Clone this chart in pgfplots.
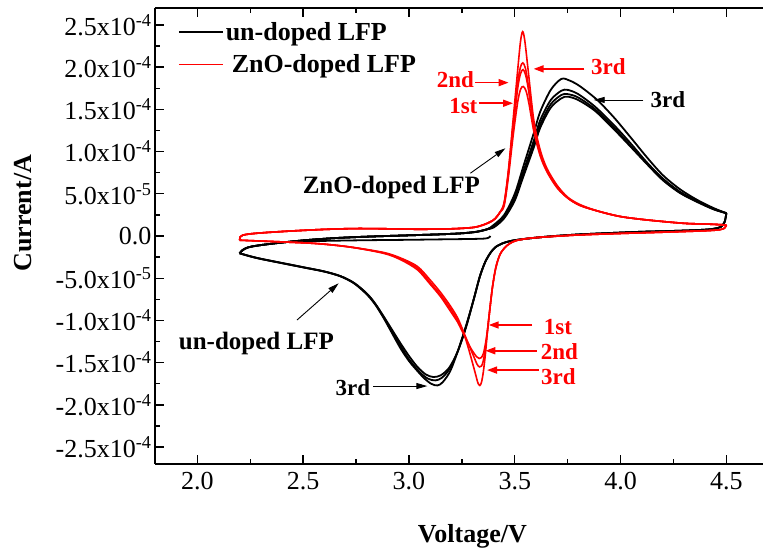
\documentclass[border=0pt]{standalone}
\usepackage{fontspec}
\setmainfont{Liberation Serif}
\usepackage{pgfplots}
\pgfplotsset{compat=1.18}
\usetikzlibrary{arrows.meta}
\pgfplotsset{
  kcv/.style={black, line width=1.8pt, smooth, tension=0.5, forget plot},
  rcv/.style={red, line width=1.6pt, smooth, tension=0.5, forget plot},
}

\begin{document}
\begin{tikzpicture}[
  lbl/.style={font=\fontsize{23}{26}\selectfont\bfseries, inner sep=0pt},
  rarr/.style={red, line width=1.6pt, -{Triangle[length=10pt,width=7pt]}},
  karr/.style={black, line width=0.9pt, -{Triangle[length=11pt,width=6pt]}},
]
\begin{axis}[
  name=ax, scale only axis, width=608pt, height=456pt,
  xmin=1.8, xmax=4.673, ymin=-2.7, ymax=2.7,
  axis x line*=box, axis y line*=left,
  axis line style={line width=1.3pt, -},
  tick align=inside, major tick length=9pt, minor tick length=5pt,
  every tick/.style={black, line width=1.3pt},
  xtick={2,2.5,3,3.5,4,4.5},
  xticklabels={2.0,2.5,3.0,3.5,4.0,4.5},
  ytick={-2.5,-2,-1.5,-1,-0.5,0,0.5,1,1.5,2,2.5},
  yticklabels={-2.5x10\textsuperscript{-4},-2.0x10\textsuperscript{-4},-1.5x10\textsuperscript{-4},-1.0x10\textsuperscript{-4},-5.0x10\textsuperscript{-5},0.0,5.0x10\textsuperscript{-5},1.0x10\textsuperscript{-4},1.5x10\textsuperscript{-4},2.0x10\textsuperscript{-4},2.5x10\textsuperscript{-4}},
  minor x tick num=1, minor y tick num=1,
  ticklabel style={font=\fontsize{26}{28}\selectfont},
  xticklabel shift=5pt,
  xlabel={Voltage/V}, ylabel={Current/A},
  label style={font=\fontsize{26}{30}\selectfont\bfseries},
  xlabel style={at={(axis description cs:0.522,-0.158)}, anchor=center},
  ylabel style={at={(axis description cs:-0.217,0.55)}, anchor=center},
  legend style={at={(axis description cs:0.0378,0.973)}, anchor=north west,
    draw=none, fill=none, inner sep=0pt, row sep=8.5pt,
    font=\fontsize{26}{30}\selectfont\bfseries},
  legend image code/.code={\draw[#1] (0pt,0pt) -- (44pt,0pt);},
  legend cell align=left,
]
\addlegendimage{black, line width=1.6pt}
\addlegendentry{un-doped LFP}
\addlegendimage{red, line width=1.6pt}
\addlegendentry{\hspace{6pt}ZnO-doped LFP}

% ---------- un-doped LFP (current in units of 1e-4 A) ----------
% initial sweep from open-circuit voltage
\addplot[kcv] coordinates {(3.385,0.000) (3.378,-0.018) (3.360,-0.030) (3.300,-0.035) (3.150,-0.040) (3.000,-0.045) (2.800,-0.050) (2.600,-0.058) (2.450,-0.068) (2.380,-0.080)};
% anodic sweeps
\addplot[kcv] coordinates {(2.200,-0.205) (2.215,-0.165) (2.240,-0.135) (2.280,-0.115) (2.340,-0.095) (2.420,-0.072) (2.520,-0.048) (2.650,-0.025) (2.800,-0.008) (3.000,0.008) (3.150,0.020) (3.250,0.032) (3.320,0.050) (3.370,0.080)
 (3.400,0.10) (3.450,0.21) (3.500,0.42) (3.540,0.70) (3.590,1.05) (3.620,1.28) (3.670,1.52) (3.720,1.63) (3.750,1.65) (3.800,1.61) (3.880,1.48) (3.970,1.26) (4.050,1.05) (4.125,0.85) (4.200,0.66) (4.280,0.51) (4.360,0.405) (4.440,0.315) (4.500,0.27)};
\addplot[kcv] coordinates {(2.200,-0.205) (2.215,-0.165) (2.240,-0.135) (2.280,-0.115) (2.340,-0.095) (2.420,-0.072) (2.520,-0.048) (2.650,-0.025) (2.800,-0.008) (3.000,0.008) (3.150,0.020) (3.250,0.032) (3.320,0.050) (3.370,0.080)
 (3.400,0.11) (3.450,0.22) (3.500,0.44) (3.540,0.73) (3.590,1.09) (3.620,1.32) (3.670,1.56) (3.720,1.67) (3.750,1.68) (3.800,1.64) (3.880,1.50) (3.970,1.28) (4.050,1.06) (4.125,0.86) (4.200,0.67) (4.280,0.515) (4.360,0.41) (4.440,0.318) (4.500,0.27)};
\addplot[kcv] coordinates {(2.200,-0.205) (2.215,-0.165) (2.240,-0.135) (2.280,-0.115) (2.340,-0.095) (2.420,-0.072) (2.520,-0.048) (2.650,-0.025) (2.800,-0.008) (3.000,0.008) (3.150,0.020) (3.250,0.032) (3.320,0.050) (3.370,0.080)
 (3.400,0.12) (3.450,0.23) (3.500,0.46) (3.540,0.76) (3.590,1.13) (3.620,1.37) (3.670,1.61) (3.720,1.72) (3.750,1.73) (3.800,1.68) (3.880,1.53) (3.970,1.31) (4.050,1.09) (4.125,0.87) (4.200,0.68) (4.280,0.525) (4.360,0.415) (4.440,0.322) (4.500,0.27)};
\addplot[kcv] coordinates {(2.200,-0.205) (2.215,-0.165) (2.240,-0.135) (2.280,-0.115) (2.340,-0.095) (2.420,-0.072) (2.520,-0.048) (2.650,-0.025) (2.800,-0.008) (3.000,0.008) (3.150,0.020) (3.250,0.032) (3.320,0.050) (3.370,0.080)
 (3.400,0.13) (3.450,0.25) (3.500,0.50) (3.540,0.82) (3.590,1.22) (3.620,1.47) (3.670,1.73) (3.720,1.86) (3.760,1.84) (3.810,1.77) (3.890,1.61) (3.970,1.40) (4.050,1.16) (4.125,0.93) (4.200,0.72) (4.280,0.555) (4.360,0.43) (4.440,0.33) (4.500,0.27)};
% cathodic sweeps
\addplot[kcv] coordinates {(4.500,0.270) (4.492,0.170) (4.475,0.110) (4.440,0.085) (4.380,0.072) (4.250,0.060) (4.100,0.050) (3.950,0.035) (3.800,0.018) (3.680,-0.002) (3.580,-0.025) (3.500,-0.050) (3.450,-0.080) (3.410,-0.130) (3.385,-0.200) (3.360,-0.310) (3.335,-0.480) (3.305,-0.760)
 (3.270,-1.08) (3.230,-1.37) (3.190,-1.56) (3.150,-1.65) (3.115,-1.67) (3.080,-1.64) (3.040,-1.55) (3.000,-1.42) (2.960,-1.27) (2.920,-1.11) (2.880,-0.95) (2.840,-0.80) (2.800,-0.68) (2.740,-0.555) (2.676,-0.475) (2.600,-0.420) (2.500,-0.370) (2.400,-0.320) (2.300,-0.270) (2.250,-0.240) (2.200,-0.205)};
\addplot[kcv] coordinates {(4.500,0.270) (4.492,0.170) (4.475,0.110) (4.440,0.085) (4.380,0.072) (4.250,0.060) (4.100,0.050) (3.950,0.035) (3.800,0.018) (3.680,-0.002) (3.580,-0.025) (3.500,-0.050) (3.450,-0.080) (3.410,-0.130) (3.385,-0.200) (3.360,-0.310) (3.335,-0.480) (3.305,-0.760)
 (3.270,-1.07) (3.230,-1.37) (3.190,-1.58) (3.155,-1.68) (3.125,-1.71) (3.090,-1.69) (3.050,-1.61) (3.000,-1.46) (2.960,-1.30) (2.920,-1.13) (2.880,-0.96) (2.840,-0.80) (2.800,-0.68) (2.740,-0.555) (2.676,-0.475) (2.600,-0.420) (2.500,-0.370) (2.400,-0.320) (2.300,-0.270) (2.250,-0.240) (2.200,-0.205)};
\addplot[kcv] coordinates {(4.500,0.270) (4.492,0.170) (4.475,0.110) (4.440,0.085) (4.380,0.072) (4.250,0.060) (4.100,0.050) (3.950,0.035) (3.800,0.018) (3.680,-0.002) (3.580,-0.025) (3.500,-0.050) (3.450,-0.080) (3.410,-0.130) (3.385,-0.200) (3.360,-0.310) (3.335,-0.480) (3.305,-0.760)
 (3.270,-1.06) (3.230,-1.37) (3.195,-1.60) (3.160,-1.73) (3.135,-1.77) (3.105,-1.75) (3.070,-1.68) (3.030,-1.57) (3.000,-1.48) (2.960,-1.33) (2.920,-1.15) (2.880,-0.97) (2.840,-0.81) (2.800,-0.69) (2.740,-0.56) (2.676,-0.478) (2.600,-0.422) (2.500,-0.372) (2.400,-0.322) (2.300,-0.272) (2.250,-0.242) (2.200,-0.205)};

% ---------- ZnO-doped LFP ----------
% anodic sweeps
\addplot[rcv] coordinates {(2.200,-0.050) (2.203,-0.010) (2.215,0.010) (2.250,0.025) (2.320,0.040) (2.450,0.060) (2.600,0.078) (2.750,0.088) (2.900,0.085) (3.050,0.080) (3.200,0.085) (3.300,0.100) (3.350,0.130) (3.400,0.190) (3.430,0.280)
 (3.450,0.36) (3.470,0.70) (3.492,1.18) (3.514,1.59) (3.528,1.74) (3.540,1.77) (3.553,1.72) (3.567,1.57) (3.590,1.24) (3.620,0.95) (3.652,0.76) (3.700,0.57) (3.750,0.45) (3.810,0.36) (3.900,0.29) (4.000,0.23) (4.125,0.19) (4.300,0.15) (4.420,0.14) (4.500,0.13)};
\addplot[rcv] coordinates {(2.200,-0.050) (2.203,-0.010) (2.215,0.010) (2.250,0.025) (2.320,0.040) (2.450,0.060) (2.600,0.078) (2.750,0.088) (2.900,0.085) (3.050,0.080) (3.200,0.085) (3.300,0.100) (3.350,0.130) (3.400,0.190) (3.430,0.280)
 (3.450,0.38) (3.470,0.74) (3.492,1.27) (3.514,1.75) (3.527,1.92) (3.539,1.97) (3.551,1.91) (3.565,1.73) (3.590,1.30) (3.620,0.98) (3.652,0.77) (3.700,0.58) (3.750,0.45) (3.810,0.36) (3.900,0.29) (4.000,0.23) (4.125,0.19) (4.300,0.15) (4.420,0.14) (4.500,0.13)};
\addplot[rcv] coordinates {(2.200,-0.050) (2.203,-0.010) (2.215,0.010) (2.250,0.025) (2.320,0.040) (2.450,0.060) (2.600,0.078) (2.750,0.088) (2.900,0.085) (3.050,0.080) (3.200,0.085) (3.300,0.100) (3.350,0.130) (3.400,0.190) (3.430,0.280)
 (3.450,0.39) (3.470,0.76) (3.492,1.31) (3.514,1.82) (3.527,2.00) (3.538,2.05) (3.550,1.99) (3.563,1.80) (3.590,1.32) (3.620,0.99) (3.652,0.78) (3.700,0.59) (3.750,0.45) (3.810,0.36) (3.900,0.29) (4.000,0.23) (4.125,0.19) (4.300,0.15) (4.420,0.14) (4.500,0.13)};
\addplot[rcv] coordinates {(2.200,-0.050) (2.203,-0.010) (2.215,0.010) (2.250,0.025) (2.320,0.040) (2.450,0.060) (2.600,0.078) (2.750,0.088) (2.900,0.085) (3.050,0.080) (3.200,0.085) (3.300,0.100) (3.350,0.130) (3.400,0.190) (3.430,0.280)
 (3.450,0.40) (3.470,0.78) (3.492,1.37) (3.514,1.97) (3.527,2.30) (3.537,2.42) (3.547,2.32) (3.563,1.97) (3.590,1.37) (3.620,1.02) (3.652,0.80) (3.700,0.60) (3.750,0.46) (3.810,0.37) (3.900,0.29) (4.000,0.23) (4.125,0.19) (4.300,0.15) (4.420,0.14) (4.500,0.13)};
% cathodic sweeps
\addplot[rcv] coordinates {(4.500,0.130) (4.492,0.095) (4.470,0.075) (4.400,0.062) (4.200,0.045) (4.000,0.030) (3.800,0.012) (3.650,-0.010) (3.560,-0.030) (3.500,-0.060) (3.460,-0.120) (3.430,-0.220) (3.410,-0.380) (3.395,-0.600) (3.383,-0.850) (3.372,-1.100)
 (3.362,-1.27) (3.352,-1.39) (3.342,-1.44) (3.332,-1.45) (3.320,-1.43) (3.305,-1.38) (3.290,-1.32) (3.270,-1.22) (3.250,-1.12) (3.230,-1.02) (3.196,-0.89) (3.150,-0.72) (3.100,-0.57) (3.040,-0.40) (2.960,-0.28) (2.880,-0.205) (2.720,-0.13) (2.566,-0.09) (2.400,-0.07) (2.300,-0.06) (2.200,-0.05)};
\addplot[rcv] coordinates {(4.500,0.130) (4.492,0.095) (4.470,0.075) (4.400,0.062) (4.200,0.045) (4.000,0.030) (3.800,0.012) (3.650,-0.010) (3.560,-0.030) (3.500,-0.060) (3.460,-0.120) (3.430,-0.220) (3.410,-0.380) (3.395,-0.600) (3.383,-0.850) (3.372,-1.100)
 (3.362,-1.31) (3.352,-1.47) (3.343,-1.54) (3.333,-1.55) (3.322,-1.52) (3.310,-1.45) (3.295,-1.36) (3.275,-1.24) (3.255,-1.12) (3.230,-1.00) (3.196,-0.86) (3.150,-0.70) (3.100,-0.55) (3.040,-0.38) (2.960,-0.27) (2.880,-0.20) (2.720,-0.13) (2.566,-0.09) (2.400,-0.07) (2.300,-0.06) (2.200,-0.05)};
\addplot[rcv] coordinates {(4.500,0.130) (4.492,0.095) (4.470,0.075) (4.400,0.062) (4.200,0.045) (4.000,0.030) (3.800,0.012) (3.650,-0.010) (3.560,-0.030) (3.500,-0.060) (3.460,-0.120) (3.430,-0.220) (3.410,-0.380) (3.395,-0.600) (3.383,-0.850) (3.372,-1.100)
 (3.362,-1.38) (3.352,-1.60) (3.343,-1.73) (3.335,-1.77) (3.326,-1.74) (3.315,-1.64) (3.300,-1.50) (3.280,-1.32) (3.255,-1.12) (3.230,-0.97) (3.196,-0.83) (3.150,-0.67) (3.100,-0.52) (3.040,-0.36) (2.960,-0.26) (2.880,-0.195) (2.720,-0.13) (2.566,-0.09) (2.400,-0.07) (2.300,-0.06) (2.200,-0.05)};

% ---------- annotations ----------
\node[lbl, font=\fontsize{25}{28}\selectfont\bfseries] at (axis cs:2.917,0.58) {ZnO-doped LFP};
\draw[karr] (axis cs:3.290,0.743) -- (axis cs:3.456,1.039);
\node[lbl, font=\fontsize{25}{28}\selectfont\bfseries] at (axis cs:2.279,-1.268) {un-doped LFP};
\draw[karr] (axis cs:2.471,-0.995) -- (axis cs:2.668,-0.560);
\node[lbl] at (axis cs:2.735,-1.80) {3rd};
\draw[karr] (axis cs:2.832,-1.777) -- (axis cs:3.087,-1.777);
\node[lbl] at (axis cs:4.224,1.611) {3rd};
\draw[karr] (axis cs:4.108,1.611) -- (axis cs:3.873,1.611);

\node[lbl, red] at (axis cs:3.942,2.0) {3rd};
\draw[rarr] (axis cs:3.829,1.979) -- (axis cs:3.589,1.979);
\node[lbl, red] at (axis cs:3.219,1.848) {2nd};
\draw[rarr] (axis cs:3.314,1.816) -- (axis cs:3.471,1.816);
\node[lbl, red] at (axis cs:3.257,1.540) {1st};
\draw[rarr] (axis cs:3.329,1.572) -- (axis cs:3.492,1.572);

\node[lbl, red] at (axis cs:3.704,-1.075) {1st};
\draw[rarr] (axis cs:3.582,-1.054) -- (axis cs:3.377,-1.054);
\node[lbl, red] at (axis cs:3.711,-1.371) {2nd};
\draw[rarr] (axis cs:3.605,-1.359) -- (axis cs:3.361,-1.359);
\node[lbl, red] at (axis cs:3.706,-1.667) {3rd};
\draw[rarr] (axis cs:3.613,-1.588) -- (axis cs:3.369,-1.588);
\end{axis}
\pgfresetboundingbox
\path ([xshift=-155pt,yshift=-88pt]ax.south west) rectangle ([yshift=8pt]ax.north east);
\end{tikzpicture}
\end{document}
